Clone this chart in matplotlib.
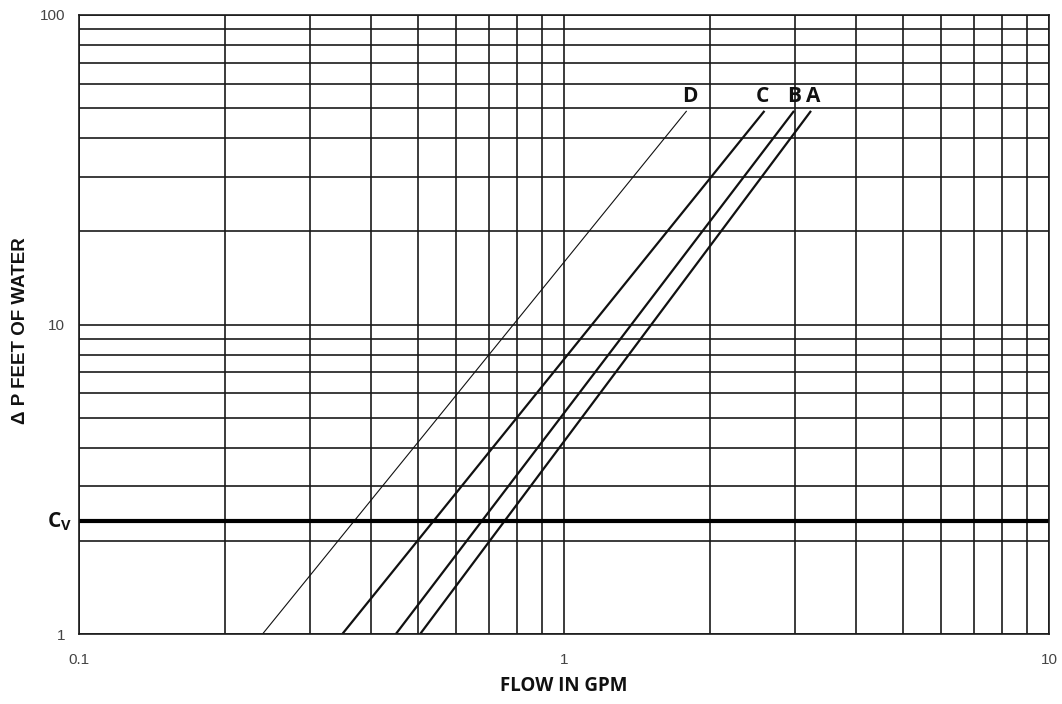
import numpy as np
import matplotlib
matplotlib.use('Agg')
import matplotlib.pyplot as plt
from matplotlib.ticker import FixedLocator, NullFormatter, FixedFormatter
import matplotlib.transforms as mtransforms

# curve data (flow in gpm at dP = 1 ft and at the top end)
curve_names = ['A', 'B', 'C', 'D']
flow_low = [0.505, 0.450, 0.349, 0.239]
flow_high = [3.23, 2.98, 2.59, 1.79]
dp_low = [1.0, 1.0, 1.0, 1.0]
dp_high = [49.0, 49.0, 49.0, 49.0]
curve_widths = [1.6, 1.6, 1.6, 0.8]
label_flow = [3.26, 2.98, 2.57, 1.82]
label_dp = 52.3

cv_dp = 2.31  # 1 psi in feet of water

x_ticks = [0.1, 1, 10]
x_ticklabels = ['0.1', '1', '10']
y_ticks = [1, 10, 100]
y_ticklabels = ['1', '10', '100']

fig = plt.figure(figsize=(10.62, 7.04), dpi=100)
ax = fig.add_axes([0.0744, 0.0994, 0.9134, 0.8793])
ax.set_xscale('log')
ax.set_yscale('log')
ax.set_xlim(0.1, 10)
ax.set_ylim(1, 100)

ax.grid(True, which='both', color='#1a1a1a', linewidth=1.2)
ax.set_axisbelow(True)

for i in range(len(curve_names)):
    ax.plot([flow_low[i], flow_high[i]], [dp_low[i], dp_high[i]],
            color='#111111', linewidth=curve_widths[i], solid_capstyle='butt')
    ax.text(label_flow[i], label_dp, curve_names[i], ha='center', va='baseline',
            fontsize=15, fontweight='bold', family='Open Sans', color='#111111')

ax.axhline(cv_dp, color='#000000', linewidth=3)
trans = mtransforms.blended_transform_factory(ax.transAxes, ax.transData)
ax.text(-0.007, cv_dp, r'C$_\mathregular{V}$', ha='right', va='center',
        fontsize=15, fontweight='bold', family='Open Sans', color='#111111',
        transform=trans, clip_on=False)

ax.xaxis.set_major_locator(FixedLocator(x_ticks))
ax.xaxis.set_major_formatter(FixedFormatter(x_ticklabels))
ax.yaxis.set_major_locator(FixedLocator(y_ticks))
ax.yaxis.set_major_formatter(FixedFormatter(y_ticklabels))
ax.xaxis.set_minor_formatter(NullFormatter())
ax.yaxis.set_minor_formatter(NullFormatter())
ax.tick_params(which='both', length=0)
ax.tick_params(axis='x', pad=14, labelsize=11, labelcolor='#444444')
ax.tick_params(axis='y', pad=10, labelsize=11, labelcolor='#444444')
for lab in ax.get_xticklabels() + ax.get_yticklabels():
    lab.set_family('Liberation Sans')

for s in ax.spines.values():
    s.set_color('#1a1a1a')
    s.set_linewidth(1.2)

ax.set_xlabel('FLOW IN GPM', fontsize=13.5, fontweight='bold', family='Open Sans',
              color='#111111', labelpad=6)
fig.text(21 / 1062, 1 - 331 / 704, '\u0394 P FEET OF WATER', rotation=90,
         ha='center', va='center', fontsize=13.5, fontweight='bold',
         family='Liberation Sans', color='#111111')

fig.savefig('out.png', dpi=100)
